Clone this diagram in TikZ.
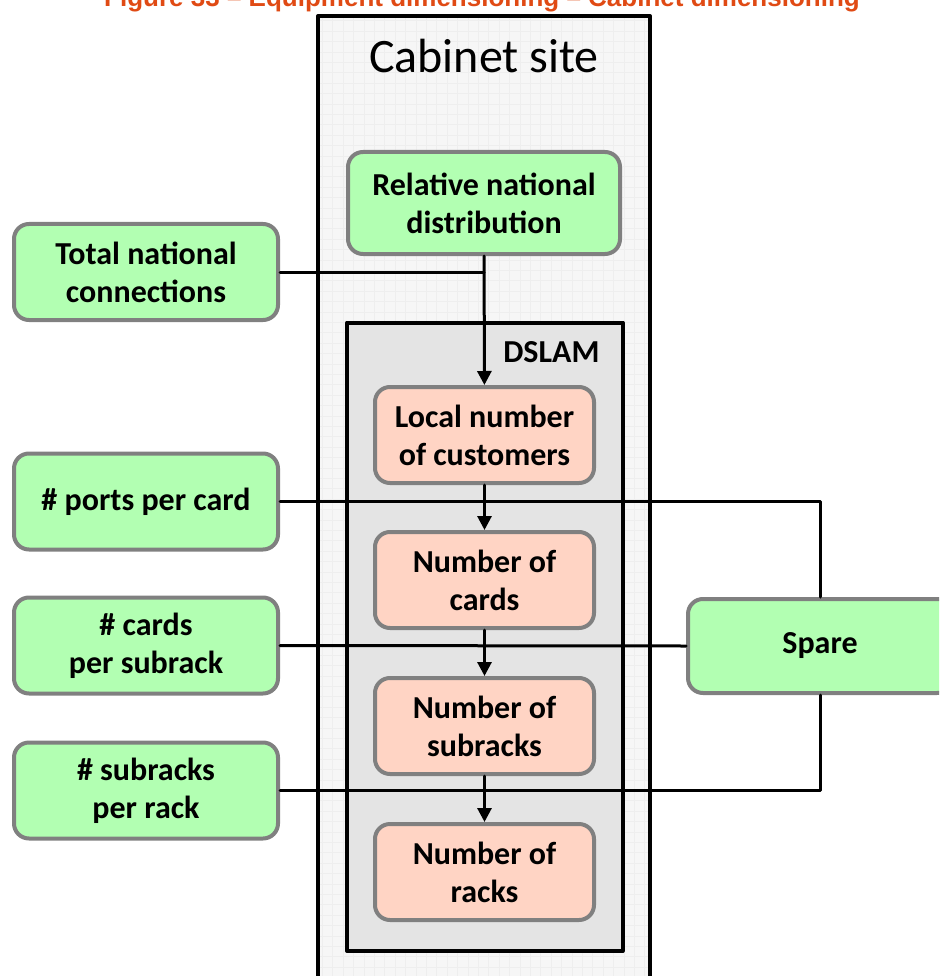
\documentclass[tikz,border=0pt]{standalone}
\usepackage{xcolor}
\usepackage{fontspec}
\usepackage{tikz}
\usetikzlibrary{calc}
\usetikzlibrary{arrows.meta}
\setmainfont{Carlito}
\newfontfamily\titlefont{Liberation Sans}
\definecolor{bbffbb}{rgb}{0.70,1.,0.70}
\definecolor{ffddcc}{rgb}{1.,0.83,0.77}
\definecolor{eeeeee}{rgb}{0.895,0.895,0.895}
\definecolor{ffffff}{rgb}{0.965,0.965,0.965}
\definecolor{gggggg}{rgb}{0.935,0.935,0.935}
\definecolor{aaaaaa}{rgb}{0.5,0.5,0.5}
\definecolor{ddqqqq}{rgb}{0.88,0.29,0.08}
\tikzset{
  greenbox/.style={draw=aaaaaa,fill=bbffbb,line width=4pt,rounded corners=15pt,align=center,
    minimum width=264pt,minimum height=96pt,inner sep=0pt,font=\fontsize{32}{38}\selectfont\bfseries},
  pinkbox/.style={greenbox,fill=ffddcc,minimum width=219pt},
  link/.style={line width=3pt}
}

\begin{document}
\begin{tikzpicture}[line cap=round,line join=round,>={Triangle[width=14pt,length=14pt]},x=1pt,y=-1pt]
\clip(0,0) rectangle (939,976);
\fill[white] (0,0) rectangle (939,976);
% figure title, cut at the top
\node[anchor=base,text=ddqqqq,font=\titlefont\fontsize{26}{30}\selectfont\bfseries] (title) at (482,7) {Figure 33 – Equipment dimensioning – Cabinet dimensioning};
% cabinet site and DSLAM
\fill[ffffff] (318,16) rectangle (650,1000);
\draw[gggggg,line width=0.8pt,step=10.4pt] (320,18) grid (648,1000);
\draw[line width=4pt,line cap=butt] (318,1000) -- (318,16) -- (650,16) -- (650,1000);
\node[anchor=base,font=\fontsize{48}{56}\selectfont] (cab) at (484,73) {Cabinet site};
\draw[line width=4pt,fill=eeeeee] (347,322.5) rectangle (622.5,951);
\node[anchor=base east,font=\fontsize{32}{38}\selectfont\bfseries] (dslam) at (603,362) {DSLAM};

\node[greenbox,minimum width=272pt,minimum height=102pt] (rnd) at (484,203) {Relative national\\distribution};
\node[greenbox] (tnc) at (146,272) {Total national\\connections};
\node[greenbox] (ppc) at (146,501.5) {\# ports per card};
\node[greenbox] (cps) at (146,645.5) {\# cards\\per subrack};
\node[greenbox] (spr) at (146,790.5) {\# subracks\\per rack};
\node[greenbox,minimum height=94pt] (spare) at (820,646) {Spare};

\node[pinkbox] (loc) at (484.5,435) {Local number\\of customers};
\node[pinkbox] (cards) at (484.5,580) {Number of\\cards};
\node[pinkbox] (subr) at (484.5,726) {Number of\\subracks};
\node[pinkbox] (racks) at (484.5,872) {Number of\\racks};

\draw [->,link] (rnd) -- (loc);
\draw [link] (tnc.east) -- (tnc.east -| rnd.south);
\draw [->,link] (loc) -- (cards);
\draw [->,link] (cards) -- (subr);
\draw [->,link] (subr) -- (racks);
\draw [link] (ppc.east) -| (spare.north);
\draw [link] (cps.east) -- (spare.west);
\draw [link] (spr.east) -| (spare.south);
\end{tikzpicture}
\end{document}
